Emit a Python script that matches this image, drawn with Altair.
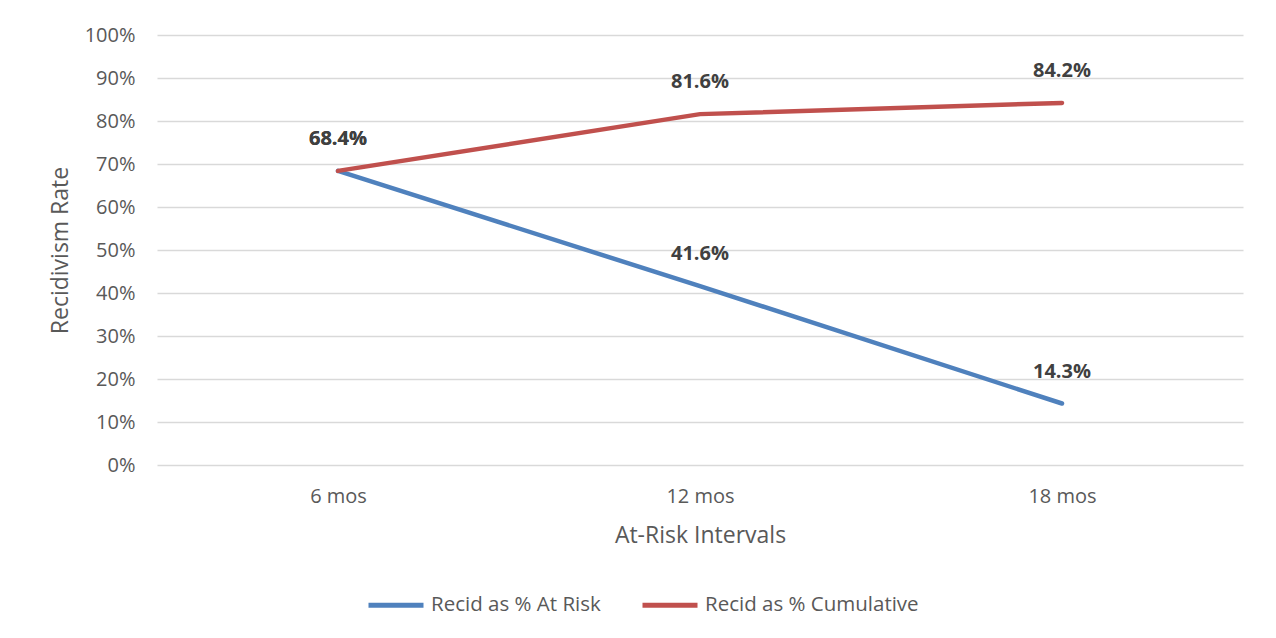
import altair as alt
import pandas as pd

intervals = ["6 mos", "12 mos", "18 mos"]
at_risk = [0.684, 0.416, 0.143]
cumulative = [0.684, 0.816, 0.842]
series_names = ["Recid as % At Risk", "Recid as % Cumulative"]
colors = ["#4F81BD", "#C0504D"]

rows = []
for i, iv in enumerate(intervals):
    rows.append({"interval": iv, "series": series_names[0], "value": at_risk[i]})
    rows.append({"interval": iv, "series": series_names[1], "value": cumulative[i]})
df = pd.DataFrame(rows)

FONT = "Open Sans"

x = alt.X(
    "interval:N",
    sort=intervals,
    scale=alt.Scale(type="point", padding=0.5),
    axis=alt.Axis(
        title="At-Risk Intervals",
        labelAngle=0,
        labelFontSize=20,
        labelColor="#595959",
        labelPadding=21,
        titleFontSize=23,
        titleFontWeight="normal",
        titleColor="#595959",
        titlePadding=18,
        domain=False,
        ticks=False,
        grid=False,
    ),
)
y = alt.Y(
    "value:Q",
    scale=alt.Scale(domain=[0, 1]),
    axis=alt.Axis(
        title="Recidivism Rate",
        format=".0%",
        values=[i / 10 for i in range(11)],
        labelFontSize=20,
        labelColor="#595959",
        labelPadding=22,
        titleFontSize=23,
        titleFontWeight="normal",
        titleColor="#595959",
        titleAngle=270,
        titleAlign="center",
        titleBaseline="alphabetic",
        titleX=-90,
        titleY=215,
        domain=False,
        ticks=False,
        grid=True,
        gridColor="#d9d9d9",
        gridWidth=1.5,
    ),
)
color = alt.Color(
    "series:N",
    scale=alt.Scale(domain=series_names, range=colors),
    legend=alt.Legend(
        title=None,
        orient="none",
        direction="horizontal",
        legendX=209,
        legendY=540,
        symbolType="stroke",
        symbolSize=3025,
        symbolStrokeWidth=5,
        labelFontSize=20.5,
        labelColor="#595959",
        labelOffset=5,
        labelLimit=400,
        columnPadding=31,
    ),
)

lines = alt.Chart(df).mark_line(strokeWidth=4.5, strokeCap="round").encode(
    x=x, y=y, color=color
)
labels = alt.Chart(df).mark_text(
    fontSize=20, fontWeight="bold", color="#404040", dy=-32, baseline="middle", font=FONT
).encode(
    x=alt.X("interval:N", sort=intervals),
    y="value:Q",
    text=alt.Text("value:Q", format=".1%"),
)

chart = (
    alt.layer(lines, labels)
    .properties(
        width=1086,
        height=430,
        autosize=alt.AutoSizeParams(type="none"),
        padding={"left": 149, "top": 27, "right": 25, "bottom": 165},
        background="white",
    )
    .configure(font=FONT, view=alt.ViewConfig(stroke="transparent", strokeWidth=0))
)

chart.save("out.html", embed_options={"renderer": "svg", "actions": False})
